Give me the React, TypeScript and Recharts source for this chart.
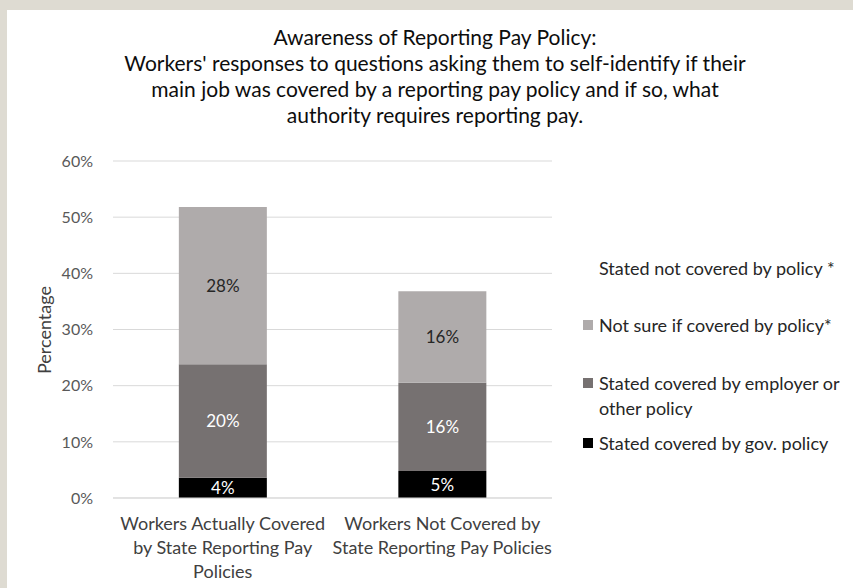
import { BarChart, Bar, XAxis, YAxis, CartesianGrid, LabelList } from 'recharts'

const categories = [
  'Workers Actually Covered by State Reporting Pay Policies',
  'Workers Not Covered by State Reporting Pay Policies',
]
const categoryLines = [
  ['Workers Actually Covered', 'by State Reporting Pay', 'Policies'],
  ['Workers Not Covered by', 'State Reporting Pay Policies'],
]
const govPolicy = [3.6, 4.8]
const employerPolicy = [20.2, 15.7]
const notSure = [28, 16.3]
const yTicks = [0, 10, 20, 30, 40, 50, 60]

const legendItems = [
  { name: 'Stated not covered by policy *', color: 'transparent', lines: ['Stated not covered by policy *'] },
  { name: 'Not sure if covered by policy*', color: '#afabab', lines: ['Not sure if covered by policy*'] },
  { name: 'Stated covered by employer or other policy', color: '#767171', lines: ['Stated covered by employer or', 'other policy'] },
  { name: 'Stated covered by gov. policy', color: '#000000', lines: ['Stated covered by gov. policy'] },
]

const data = categories.map((name, i) => ({
  name,
  gov: govPolicy[i],
  employer: employerPolicy[i],
  notSure: notSure[i],
}))

const FONT = 'Lato, "Open Sans", sans-serif'

function CategoryTick({ x, y, payload, index }: any) {
  const lines = categoryLines[index] ?? [payload.value]
  return (
    <g transform={`translate(${x},${y})`}>
      {lines.map((line, i) => (
        <text key={i} x={0} y={24 + i * 24} textAnchor="middle" fontSize={18} fill="#404040" fontFamily={FONT}>
          {line}
        </text>
      ))}
    </g>
  )
}

// legend drawn as html so it doesn't eat into the plot area
function LegendBox() {
  const rowCenters = [268, 325, 383, 443]
  return (
    <div style={{ position: 'absolute', left: 583, top: 0, fontFamily: FONT, fontSize: 18, color: '#262626' }}>
      {legendItems.map((item, i) => (
        <div key={item.name} style={{ position: 'absolute', left: 0, top: rowCenters[i] - 12, display: 'flex', whiteSpace: 'nowrap' }}>
          <div style={{ width: 10, height: 10, background: item.color, marginTop: 7, marginRight: 6, flex: 'none' }} />
          <div style={{ lineHeight: '25px' }}>
            {item.lines.map((l) => (
              <div key={l}>{l}</div>
            ))}
          </div>
        </div>
      ))}
    </div>
  )
}

const pct = (v: any) => `${Math.round(Number(v))}%`

export default function App() {
  return (
    <div style={{ position: 'absolute', left: 0, top: 0, width: 853, height: 588, background: '#dedbd2', overflow: 'hidden' }}>
      <div style={{ position: 'absolute', left: 7, top: 10, width: 846, height: 578, background: '#ffffff' }} />
      <div
        style={{
          position: 'absolute',
          left: 35,
          top: 24,
          width: 800,
          textAlign: 'center',
          fontFamily: FONT,
          fontSize: 21,
          lineHeight: '26px',
          color: '#0d0d0d',
        }}
      >
        <div>Awareness of Reporting Pay Policy:</div>
        <div>Workers' responses to questions asking them to self-identify if their</div>
        <div>main job was covered by a reporting pay policy and if so, what</div>
        <div>authority requires reporting pay.</div>
      </div>
      <div
        style={{
          position: 'absolute',
          left: 44,
          top: 330,
          transform: 'translate(-50%, -50%) rotate(-90deg)',
          fontFamily: FONT,
          fontSize: 18,
          color: '#404040',
          whiteSpace: 'nowrap',
        }}
      >
        Percentage
      </div>
      <div style={{ position: 'absolute', left: 0, top: 0 }}>
        <BarChart
          width={853}
          height={588}
          data={data}
          margin={{ top: 161, right: 301, bottom: 10, left: 53 }}
          barCategoryGap="30%"
        >
          <CartesianGrid vertical={false} stroke="#d9d9d9" />
          <XAxis
            dataKey="name"
            height={80}
            tick={<CategoryTick />}
            tickLine={false}
            axisLine={{ stroke: '#d9d9d9' }}
            interval={0}
          />
          <YAxis
            width={60}
            domain={[0, 60]}
            ticks={yTicks}
            tickFormatter={(v) => `${v}%`}
            tickLine={false}
            axisLine={false}
            tickMargin={14}
            tick={{ fontSize: 16, fill: '#595959', fontFamily: FONT }}
          />
          <Bar dataKey="gov" stackId="a" fill="#000000" isAnimationActive={false}>
            <LabelList dataKey="gov" position="center" formatter={pct} fill="#ffffff" fontSize={17} fontFamily={FONT} />
          </Bar>
          <Bar dataKey="employer" stackId="a" fill="#767171" isAnimationActive={false}>
            <LabelList dataKey="employer" position="center" formatter={pct} fill="#ffffff" fontSize={17} fontFamily={FONT} />
          </Bar>
          <Bar dataKey="notSure" stackId="a" fill="#afabab" isAnimationActive={false}>
            <LabelList dataKey="notSure" position="center" formatter={pct} fill="#262626" fontSize={17} fontFamily={FONT} />
          </Bar>
        </BarChart>
      </div>
      <LegendBox />
    </div>
  )
}
